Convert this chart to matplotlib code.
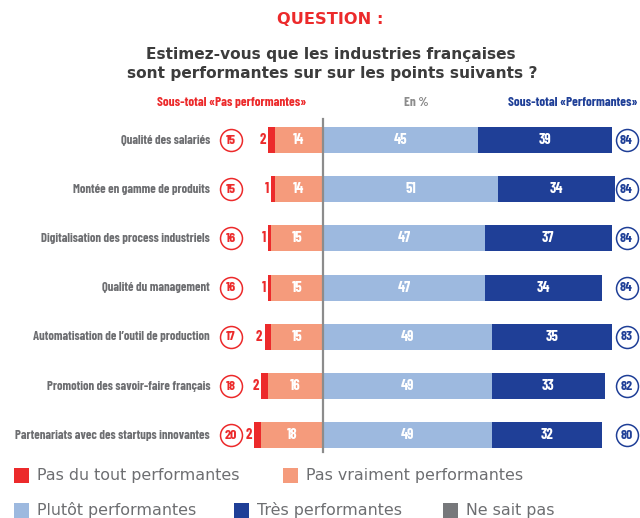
import matplotlib
matplotlib.use("Agg")
import matplotlib.pyplot as plt
from matplotlib.patches import Rectangle
from matplotlib import font_manager as fm

# ---- data ----
categories = [
    "Qualité des salariés",
    "Montée en gamme de produits",
    "Digitalisation des process industriels",
    "Qualité du management",
    "Automatisation de l\u2019outil de production",
    "Promotion des savoir-faire français",
    "Partenariats avec des startups innovantes",
]
pas_du_tout = [2, 1, 1, 1, 2, 2, 2]
pas_vraiment = [14, 14, 15, 15, 15, 16, 18]
plutot = [45, 51, 47, 47, 49, 49, 49]
tres = [39, 34, 37, 34, 35, 33, 32]
sub_pas = [15, 15, 16, 16, 17, 18, 20]
sub_perf = [84, 84, 84, 84, 83, 82, 80]
legend_labels = ["Pas du tout performantes", "Pas vraiment performantes",
                 "Plutôt performantes", "Très performantes", "Ne sait pas"]

# ---- fonts ----
_files = {f.fname.split('/')[-1].lower(): f.fname for f in fm.fontManager.ttflist}


def find_font(names, fallback):
    for n in names:
        if n.lower() in _files:
            return fm.FontProperties(fname=_files[n.lower()])
    return fallback


COND = find_font(["BarlowCondensed-Bold.ttf", "AsapCondensed-Bold.ttf",
                  "SairaExtraCondensed-Bold.ttf"],
                 fm.FontProperties(family="DejaVu Sans", weight="bold"))
HEADF = find_font(["Montserrat-Bold.ttf", "Montserrat-SemiBold.ttf"],
                  fm.FontProperties(family="DejaVu Sans", weight="bold"))
LEGF = find_font(["Montserrat-Regular.ttf", "Montserrat-Light.ttf"],
                 fm.FontProperties(family="DejaVu Sans"))

# ---- style ----
C_RED = "#EC2A2B"
C_SALMON = "#F59B7C"
C_LBLUE = "#9DB9DF"
C_DBLUE = "#1F3F97"
C_GRAY = "#77787B"
C_TXT = "#6D6E71"
C_TITLE = "#3C3C3C"

W, H = 640, 518
fig = plt.figure(figsize=(W / 100, H / 100), dpi=100)
ax = fig.add_axes([0, 0, 1, 1])
ax.axis("off")
renderer = fig.canvas.get_renderer()


def fit(t, width_px):
    bb = t.get_window_extent(renderer)
    t.set_fontsize(t.get_fontsize() * width_px / bb.width)
    return t.get_fontsize()


def fitted_size(s, fp, width_px):
    p = fig.text(0, 0, s, fontproperties=fp, fontsize=10)
    fs = fit(p, width_px)
    p.remove()
    return fs


PX = 3.44          # pixels per percentage unit
CX = 323           # centre line pixel
ROW0, ROWS = 140, 49.2
ax.set_xlim(-CX / PX, (W - CX) / PX)
ax.set_ylim((H - ROW0) / ROWS, -ROW0 / ROWS)

bh = 26 / ROWS
ys = list(range(len(categories)))

ax.barh(ys, pas_du_tout, left=[-(a + b) for a, b in zip(pas_du_tout, pas_vraiment)],
        height=bh, color=C_RED, linewidth=0)
ax.barh(ys, pas_vraiment, left=[-b for b in pas_vraiment], height=bh,
        color=C_SALMON, linewidth=0)
ax.barh(ys, plutot, left=0, height=bh, color=C_LBLUE, linewidth=0)
ax.barh(ys, tres, left=plutot, height=bh, color=C_DBLUE, linewidth=0)

ax.axvline(0, ymin=1 - 452 / H, ymax=1 - 119 / H, color="#8C8C8C", lw=1.6, zorder=3)

x_label = (210 - CX) / PX
x_circ_l = (230.5 - CX) / PX
x_circ_r = (626.5 - CX) / PX

lab_fs = min(fitted_size(categories[-1], COND, 196), 10.5)
num_fs = 10.5
circ_fs = 10

for i, y in enumerate(ys):
    ax.text(x_label, y, categories[i], ha="right", va="center",
            fontproperties=COND, fontsize=lab_fs, color=C_TXT)
    ax.text(-pas_vraiment[i] / 2, y, str(pas_vraiment[i]), ha="center", va="center",
            fontproperties=COND, fontsize=num_fs, color="white")
    ax.text(plutot[i] / 2, y, str(plutot[i]), ha="center", va="center",
            fontproperties=COND, fontsize=num_fs, color="white")
    ax.text(plutot[i] + tres[i] / 2, y, str(tres[i]), ha="center", va="center",
            fontproperties=COND, fontsize=num_fs, color="white")
    start = -(pas_du_tout[i] + pas_vraiment[i])
    ax.text(start - 0.6, y, str(pas_du_tout[i]), ha="right", va="center",
            fontproperties=COND, fontsize=num_fs, color=C_RED)
    ax.scatter([x_circ_l], [y], s=250, facecolor="white", edgecolor=C_RED, lw=1.1, zorder=4)
    ax.text(x_circ_l, y, str(sub_pas[i]), ha="center", va="center", fontproperties=COND,
            fontsize=circ_fs, color=C_RED, zorder=5)
    ax.scatter([x_circ_r], [y], s=250, facecolor="white", edgecolor=C_DBLUE, lw=1.1, zorder=4)
    ax.text(x_circ_r, y, str(sub_perf[i]), ha="center", va="center", fontproperties=COND,
            fontsize=circ_fs, color=C_DBLUE, zorder=5)


def fy(p):
    return 1 - p / H


t = fig.text(330 / W, fy(20), "QUESTION :", ha="center", va="center",
             fontproperties=HEADF, fontsize=12, color=C_RED)
fit(t, 106)
t1 = fig.text(330.5 / W, fy(55), "Estimez-vous que les industries françaises", ha="center",
              va="center", fontproperties=HEADF, fontsize=12, color=C_TITLE)
tfs = fit(t1, 367)
fig.text(332 / W, fy(74), "sont performantes sur sur les points suivants ?", ha="center",
         va="center", fontproperties=HEADF, fontsize=tfs, color=C_TITLE)
sub_fs = min(fitted_size("Sous-total «Pas performantes»", COND, 150), 10.5)
fig.text(232 / W, fy(102), "Sous-total «Pas performantes»", ha="center", va="center",
         fontproperties=COND, fontsize=sub_fs, color=C_RED)
fig.text(416.5 / W, fy(102), "En %", ha="center", va="center",
         fontproperties=COND, fontsize=sub_fs, color="#8C8C8C")
fig.text(638 / W, fy(102), "Sous-total «Performantes»", ha="right", va="center",
         fontproperties=COND, fontsize=sub_fs, color=C_DBLUE)

# ---- legend ----
leg_colors = [C_RED, C_SALMON, C_LBLUE, C_DBLUE, C_GRAY]
leg_pos = [(14, 475.5), (283, 475.5), (14, 510), (234, 510), (443, 510)]
leg_fs = fitted_size(legend_labels[0], LEGF, 202)
for lab, col, (px, py) in zip(legend_labels, leg_colors, leg_pos):
    fig.patches.append(Rectangle((px / W, fy(py + 7.5)), 15 / W, 15 / H,
                                 transform=fig.transFigure, color=col, lw=0))
    fig.text((px + 23) / W, fy(py), lab, ha="left", va="center",
             fontproperties=LEGF, fontsize=leg_fs, color=C_TXT)

fig.savefig("out.png", dpi=100)
